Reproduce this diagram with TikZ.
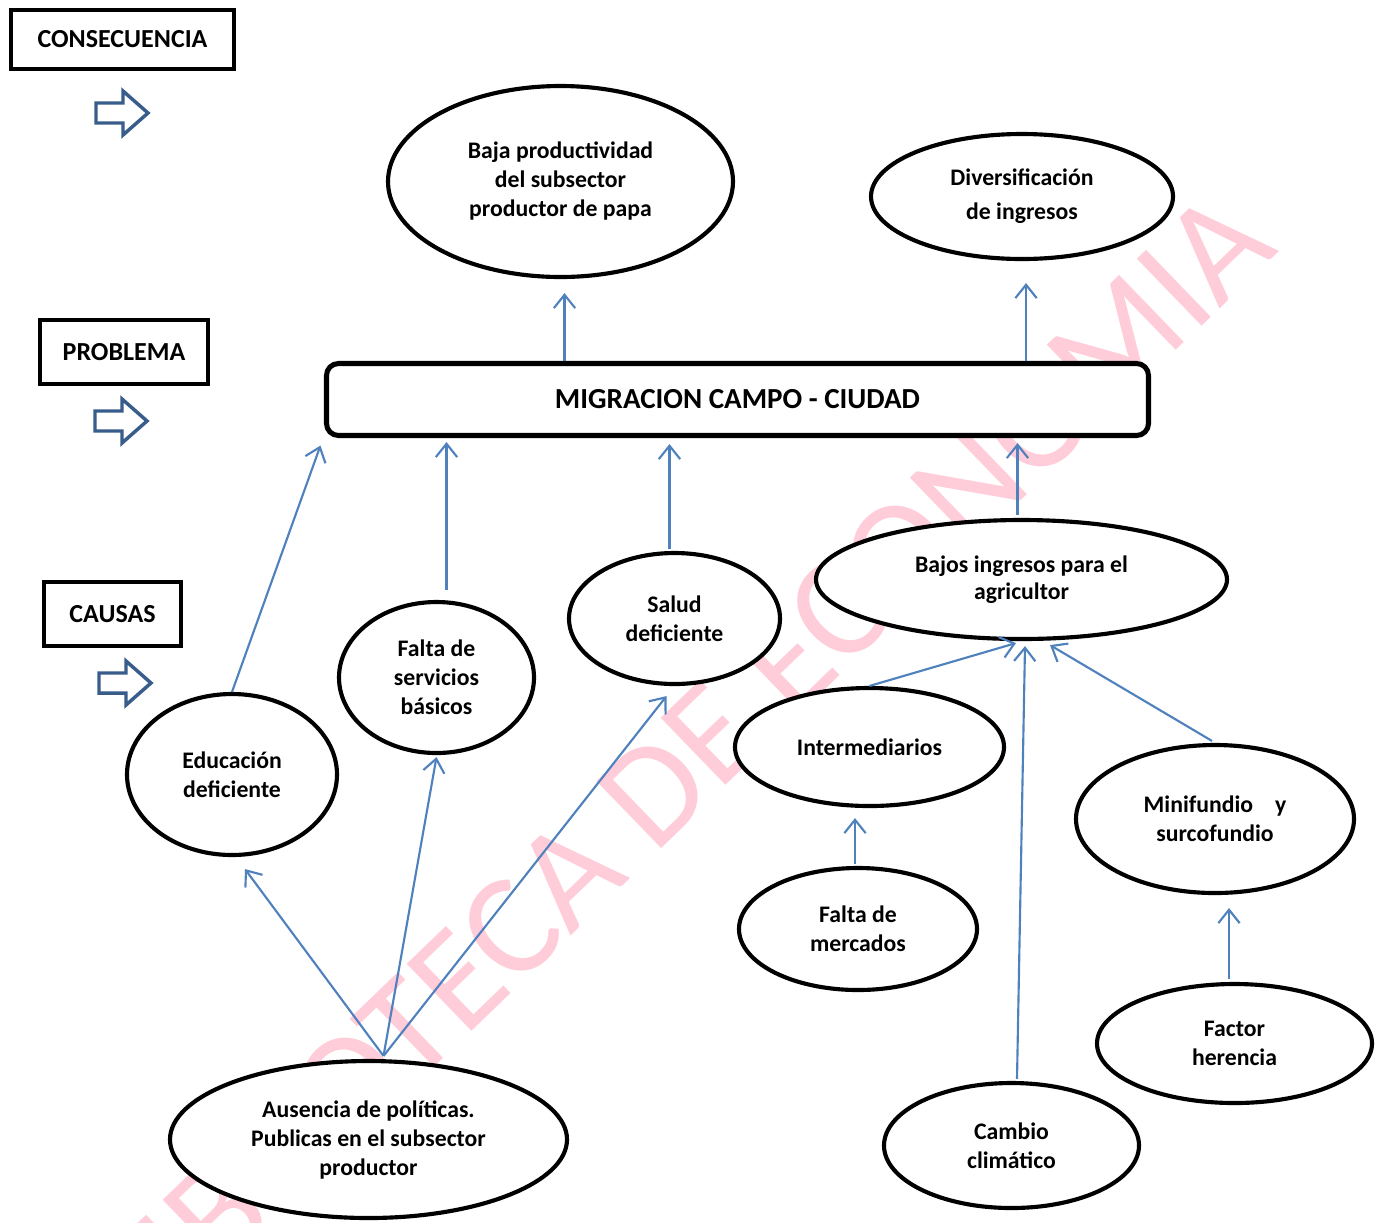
\documentclass[tikz,border=0pt]{standalone}
\usepackage{fontspec}
\setmainfont{Carlito}
\usetikzlibrary{shapes.geometric,arrows.meta,calc}
\definecolor{arrblue}{RGB}{79,129,189}
\definecolor{barblue}{RGB}{56,93,138}
\definecolor{wmpink}{RGB}{255,205,218}
\begin{document}
\begin{tikzpicture}[x=0.75pt,y=-0.75pt,
  el/.style 2 args={ellipse, draw=black, line width=3.1pt, fill=white, inner sep=0pt,
    align=center, minimum width=#1*0.75pt, minimum height=#2*0.75pt,
    font=\fontsize{17.8}{21.75}\selectfont\bfseries},
  lab/.style 2 args={rectangle, draw=black, line width=3.1pt, fill=white, inner sep=0pt,
    minimum width=#1*0.75pt, minimum height=#2*0.75pt,
    font=\fontsize{19.5}{23}\selectfont\bfseries},
  arr/.style={draw=arrblue, line width=1.6pt, -{Straight Barb[length=10pt,width=16pt]}},
  barrowstyle/.style={draw=barblue, line width=2.6pt, fill=white, line join=miter},
  barrow/.pic={\draw[barrowstyle] (0,-10) -- (27,-10) -- (27,-22) -- (52,0) -- (27,22) -- (27,10) -- (0,10) -- cycle;},
  wmark/.style={text=wmpink, inner sep=0pt, rotate=44, font=\fontsize{109}{109}\selectfont}
]
\useasboundingbox (0,0) rectangle (1387,1222);
% watermark
\node[wmark] (wm) at (676,769) {BIBLIOTECA DE ECONOMIA};

% level labels
\node[lab={223}{59}] (cons) at (122.5,39.5) {CONSECUENCIA};
\node[lab={168}{64}] (prob) at (124,352) {PROBLEMA};
\node[lab={137}{64}] (caus) at (112.5,614) {CAUSAS};
\pic at (96,113) {barrow};
\pic at (95,421) {barrow};
\pic at (99,683) {barrow};

% problem
\node[rectangle, rounded corners=9pt, draw=black, line width=3.8pt, fill=white,
  minimum width=822*0.75pt, minimum height=72*0.75pt, inner sep=0pt,
  font=\fontsize{21.8}{26}\selectfont\bfseries] (migr) at (737.5,399.5) {MIGRACION CAMPO - CIUDAD};

% consequences
\node[el={345}{191}] (baja) at (560.5,181.5) {Baja productividad\\del subsector\\productor de papa};
\node[el={302}{125}, font=\fontsize{17.8}{25.5}\selectfont\bfseries] (div) at (1022,196.5) {Diversificación\\de ingresos};

% causes
\node[el={411}{119}, font=\fontsize{17.8}{20.25}\selectfont\bfseries] (bajos) at (1021.5,579.5) {Bajos ingresos para el\\agricultor};
\node[el={211}{131}] (salud) at (674.5,618.5) {Salud\\deficiente};
\node[el={195}{151}] (serv) at (436.5,677.5) {Falta de\\servicios\\básicos};
\node[el={210}{161}] (edu) at (232,774.5) {Educación\\deficiente};
\node[el={269}{118}] (inter) at (869.5,747) {Intermediarios};
\node[el={278}{148}] (mini) at (1215,819) {Minifundio\hspace{16.5pt}y\\surcofundio};
\node[el={238}{122}] (merc) at (858,929) {Falta de\\mercados};
\node[el={275}{119}] (fact) at (1234.5,1043.5) {Factor\\herencia};
\node[el={255}{125}] (cambio) at (1011.5,1145.5) {Cambio\\climático};
\node[el={397}{157}] (aus) at (368.5,1139.5) {Ausencia de políticas.\\Publicas en el subsector\\productor};

% connectors: problem -> consequences
\draw[arr] ($(migr.north -| baja.south)+(4,0)$) -- ($(baja.south)+(4,14)$);
\draw[arr] ($(migr.north -| div.south)+(4,0)$) -- ($(div.south)+(4,22)$);
% causes -> problem
\draw[arr] (edu.north) -- ($(migr.south west)+(-3.5,7.5)$);
\draw[arr] ($(serv.north)+(10,-10)$) -- ($(migr.south -| serv.north)+(10,4)$);
\draw[arr] ($(salud.north)+(-5,-2)$) -- ($(migr.south -| salud.north)+(-5,6)$);
\draw[arr] ($(bajos.north)+(-4,-3)$) -- ($(migr.south -| bajos.north)+(-4,5)$);
% sub-causes
\draw[arr] (inter.north) -- ($(bajos.south)+(-5.5,2)$);
\draw[arr] ($(cambio.north)+(5.5,-2)$) -- ($(bajos.south)+(3.5,5)$);
\draw[arr] ($(mini.north)+(-3,-2)$) -- ($(bajos.south)+(28.5,4)$);
\draw[arr] ($(merc.north)+(-3,-2)$) -- ($(inter.south -| merc.north)+(-3,10)$);
\draw[arr] ($(fact.north)+(-5.5,-3)$) -- ($(mini.south -| fact.north)+(-5.5,13)$);
\draw[arr] ($(aus.north)+(15,-3)$) -- ($(edu.south)+(13,12)$);
\draw[arr] ($(aus.north)+(15,-3)$) -- ($(serv.south)+(0,2)$);
\draw[arr] ($(aus.north)+(15,-3)$) -- ($(salud.south)+(-8,10)$);
\end{tikzpicture}
\end{document}
